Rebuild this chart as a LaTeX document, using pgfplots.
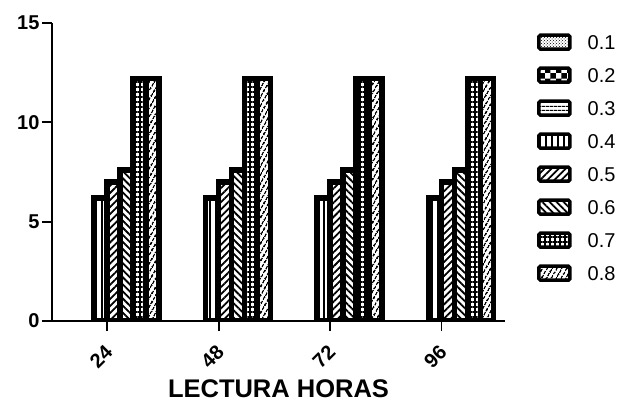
\documentclass[border=0pt]{standalone}
\usepackage{fontspec}
\setmainfont{Liberation Sans}
\usepackage{pgfplots}
\pgfplotsset{compat=1.18}
\usetikzlibrary{patterns,patterns.meta}

\begin{document}
\begin{tikzpicture}
\useasboundingbox (0,0) rectangle (626pt,402pt);
\begin{axis}[
    at={(52pt,81pt)}, anchor=south west,
    scale only axis,
    width=453pt, height=298pt,
    ybar=0pt, bar width=13pt,
    xmin=0.505, xmax=4.57,
    ymin=0, ymax=15,
    xtick={1,2,3,4},
    xticklabels={24,48,72,96},
    ytick={0,5,10,15},
    axis lines=left,
    axis line style={-, line width=2.2pt},
    tick style={line width=1.8pt, black},
    tick align=outside,
    major tick length=10pt,
    /pgf/number format/assume math mode=true,
    ticklabel style={font=\bfseries\fontsize{20}{20}\selectfont},
    yticklabel style={xshift=1pt},
    xticklabel style={rotate=45, anchor=east, xshift=-8pt, yshift=-14pt},
    xlabel={LECTURA HORAS},
    xlabel style={font=\bfseries\fontsize{25.5}{25.5}\selectfont, yshift=-2pt},
    every axis plot/.append style={draw=black, line width=5.5pt},
    legend image code/.code={%
        \draw[#1, draw=black, line width=3.5pt, rounded corners=1.5pt] (0pt,-7pt) rectangle (31pt,7pt);},
    legend style={draw=none, fill=none, at={(1,1)}, anchor=north west,
        xshift=32pt, yshift=-10pt, inner sep=0pt, row sep=15pt,
        font=\fontsize{20}{20}\selectfont,
        nodes={inner sep=2pt, text height=14pt, text depth=0pt},
        /tikz/every odd column/.append style={column sep=14pt}},
    legend cell align=left,
]
\addplot[draw=none, pattern=crosshatch dots] coordinates {(1,0) (2,0) (3,0) (4,0)};
\addplot[draw=none, pattern=checkerboard] coordinates {(1,0) (2,0) (3,0) (4,0)};
\addplot[draw=none, pattern={Lines[angle=0,distance=4pt,line width=1.2pt]}] coordinates {(1,0) (2,0) (3,0) (4,0)};
\addplot[pattern={Lines[angle=90,distance=6pt,line width=1.5pt]}] coordinates {(1,6.2) (2,6.2) (3,6.2) (4,6.2)};
\addplot[pattern={Lines[angle=45,distance=5pt,line width=1.8pt]}] coordinates {(1,7.0) (2,7.0) (3,7.0) (4,7.0)};
\addplot[pattern={Lines[angle=-45,distance=5pt,line width=1.8pt]}] coordinates {(1,7.6) (2,7.6) (3,7.6) (4,7.6)};
\addplot[pattern={Hatch[angle=0,distance=5pt,line width=1.6pt]}] coordinates {(1,12.2) (2,12.2) (3,12.2) (4,12.2)};
\addplot[pattern={Lines[angle=60,distance=4pt,line width=1.9pt]}] coordinates {(1,12.2) (2,12.2) (3,12.2) (4,12.2)};
\legend{0.1,0.2,0.3,0.4,0.5,0.6,0.7,0.8}
\end{axis}
\end{tikzpicture}
\end{document}
